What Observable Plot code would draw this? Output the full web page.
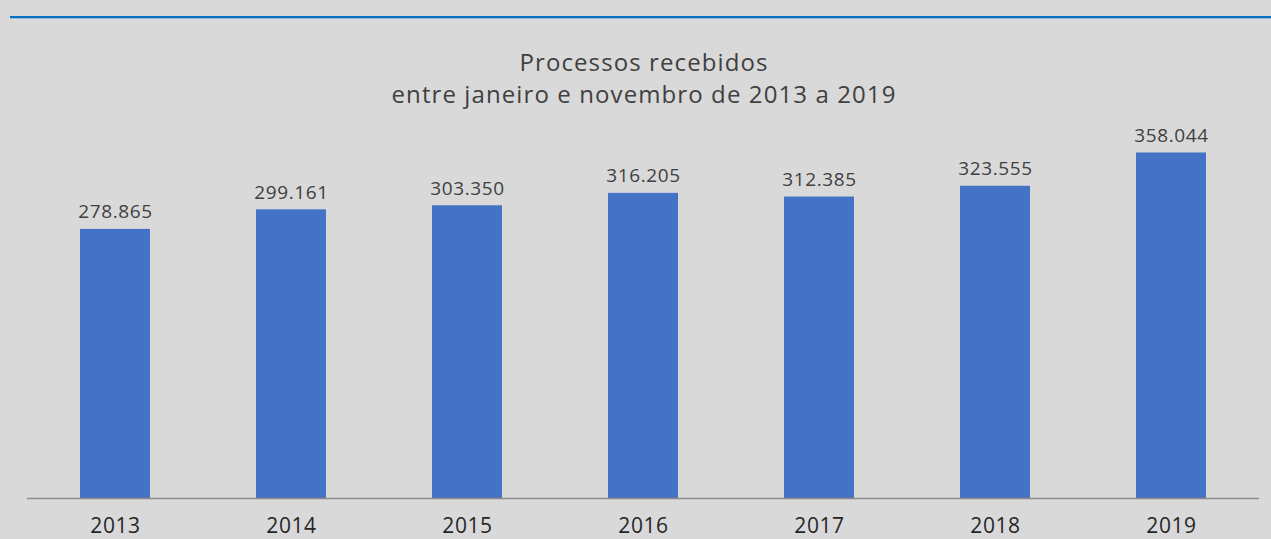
<!DOCTYPE html>
<html>
<head>
<meta charset="utf-8">
<script src="https://cdn.jsdelivr.net/npm/d3@7"></script>
<script src="https://cdn.jsdelivr.net/npm/@observablehq/plot@0.6"></script>
<style>
  html, body { margin: 0; padding: 0; background: #d9d9d9; }
  #wrap { position: relative; width: 1271px; height: 539px; background: #d9d9d9; overflow: hidden; font-family: "Open Sans", sans-serif; }
  #topline { position: absolute; left: 10px; right: 0; top: 16px; height: 2px; background: #0070c0; border-bottom: 1px solid #9dbcd9; }
  #title { position: absolute; left: 0; width: 1288px; top: 46px; text-align: center; color: #404040; font-size: 24px; line-height: 32px; letter-spacing: 1.1px; }
  #chart { position: absolute; left: 0; top: 0; }
  #chart svg text { letter-spacing: 0.6px; }
</style>
</head>
<body>
<div id="wrap">
  <div id="chart"></div>
  <div id="topline"></div>
  <div id="title">Processos recebidos<br>entre janeiro e novembro de 2013 a 2019</div>
</div>
<script>
const years = ["2013", "2014", "2015", "2016", "2017", "2018", "2019"];
const values = [278865, 299161, 303350, 316205, 312385, 323555, 358044];
const labels = ["278.865", "299.161", "303.350", "316.205", "312.385", "323.555", "358.044"];

const data = years.map((y, i) => ({year: y, value: values[i], label: labels[i]}));

const chart = Plot.plot({
  width: 1271,
  height: 539,
  marginLeft: 27,
  marginRight: 12,
  marginTop: 112,
  marginBottom: 41,
  style: {background: "transparent", fontFamily: "Open Sans, sans-serif", color: "#262626"},
  x: {domain: years, paddingInner: 0.6, paddingOuter: 0.3, label: null},
  y: {domain: [0, 400000], axis: null},
  marks: [
    Plot.barY(data, {x: "year", y: "value", fill: "#4472c4"}),
    Plot.ruleY([0], {stroke: "#8c8c8c", strokeWidth: 1.5}),
    Plot.text(data, {x: "year", y: "value", text: "label", lineAnchor: "bottom", dy: -11, fontSize: 19, fill: "#404040"}),
    Plot.axisX({tickSize: 0, tickPadding: 20, fontSize: 21, fill: "#262626", label: null})
  ]
});
document.getElementById("chart").appendChild(chart);
</script>
</body>
</html>
